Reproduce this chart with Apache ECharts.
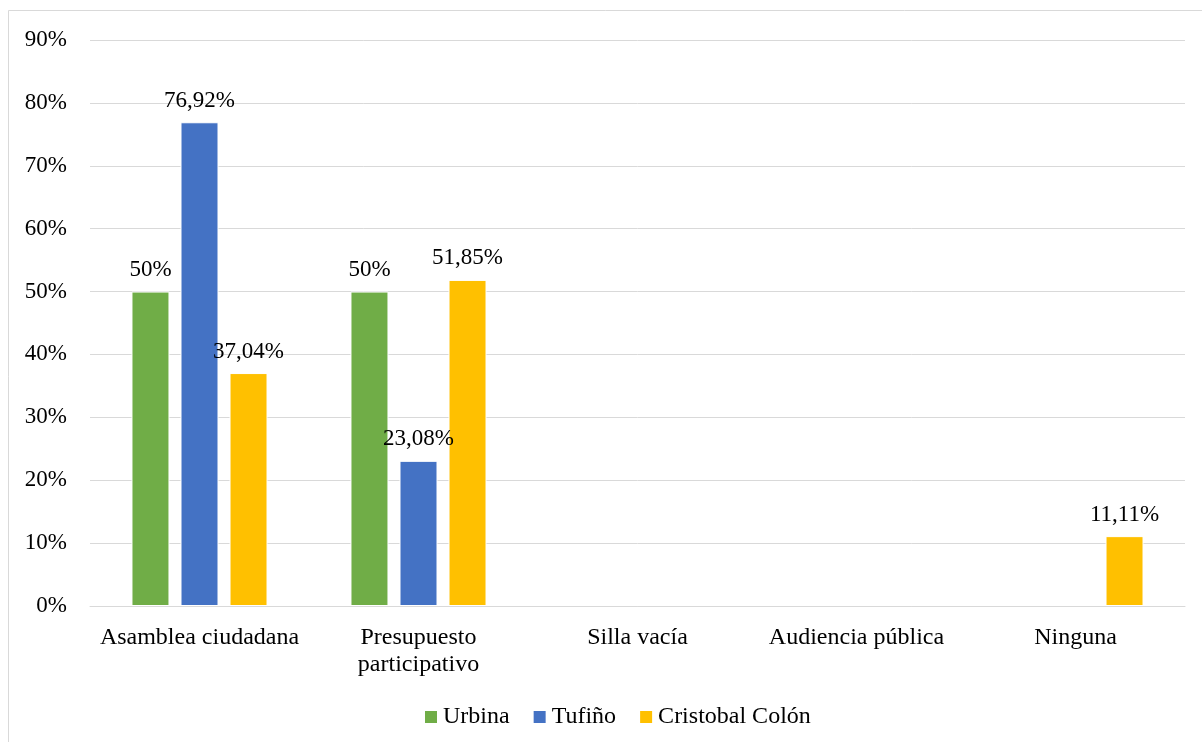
<!DOCTYPE html>
<html>
<head>
<meta charset="utf-8">
<script src="https://cdn.jsdelivr.net/npm/echarts@6/dist/echarts.min.js"></script>
<style>
html,body{margin:0;padding:0;background:#fff;}
#c{width:1202px;height:742px;}
</style>
</head>
<body>
<div id="c"></div>
<script>
const categories = ['Asamblea ciudadana', 'Presupuesto\nparticipativo', 'Silla vacía', 'Audiencia pública', 'Ninguna'];
const urbina = [50, 50, 0, 0, 0];
const tufino = [76.92, 23.08, 0, 0, 0];
const colon = [37.04, 51.85, 0, 0, 11.11];
const seriesNames = ['Urbina', 'Tufiño', 'Cristobal Colón'];
const colors = ['#70AD47', '#4472C4', '#FFC000'];

const font = 'Liberation Serif, Times New Roman, serif';
function fmt(v) {
  const s = Number.isInteger(v) ? String(v) : v.toFixed(2).replace('.', ',');
  return s + '%';
}
function mk(name, data, color) {
  return {
    name: name, type: 'bar', data: data.map(v => v === 0 ? '-' : v),
    barWidth: 38, barGap: '29%',
    itemStyle: { color: color, borderColor: '#fff', borderWidth: 1 },
    label: {
      show: true, position: 'top', distance: 10,
      fontFamily: font, fontSize: 23, color: '#000',
      formatter: p => fmt(p.value)
    }
  };
}
const chart = echarts.init(document.getElementById('c'));
chart.setOption({
  animation: false,
  backgroundColor: '#fff',
  textStyle: { fontFamily: font },
  graphic: [{
    type: 'rect', shape: { x: 8.5, y: 10.5, width: 1200, height: 740 },
    style: { fill: 'none', stroke: '#d9d9d9', lineWidth: 1 }, silent: true
  }],
  grid: { left: 90, right: 17, top: 40, bottom: 136, containLabel: false },
  legend: {
    bottom: 8, left: 418,
    itemWidth: 14, itemHeight: 14, itemGap: 22,
    icon: 'rect',
    textStyle: { fontFamily: font, fontSize: 24, color: '#000', padding: [0, 0, 0, 0] },
    data: seriesNames
  },
  xAxis: {
    type: 'category', data: categories,
    axisLine: { show: true, lineStyle: { color: '#d9d9d9', width: 1 } },
    axisTick: { show: false },
    axisLabel: { fontFamily: font, fontSize: 24, color: '#000', margin: 18, lineHeight: 27, interval: 0 }
  },
  yAxis: {
    type: 'value', min: 0, max: 90, interval: 10,
    axisLine: { show: false }, axisTick: { show: false },
    axisLabel: { fontFamily: font, fontSize: 23, color: '#000', margin: 23, formatter: '{value}%' },
    splitLine: { lineStyle: { color: '#d9d9d9', width: 1 } }
  },
  series: [mk(seriesNames[0], urbina, colors[0]), mk(seriesNames[1], tufino, colors[1]), mk(seriesNames[2], colon, colors[2])]
});
</script>
</body>
</html>
